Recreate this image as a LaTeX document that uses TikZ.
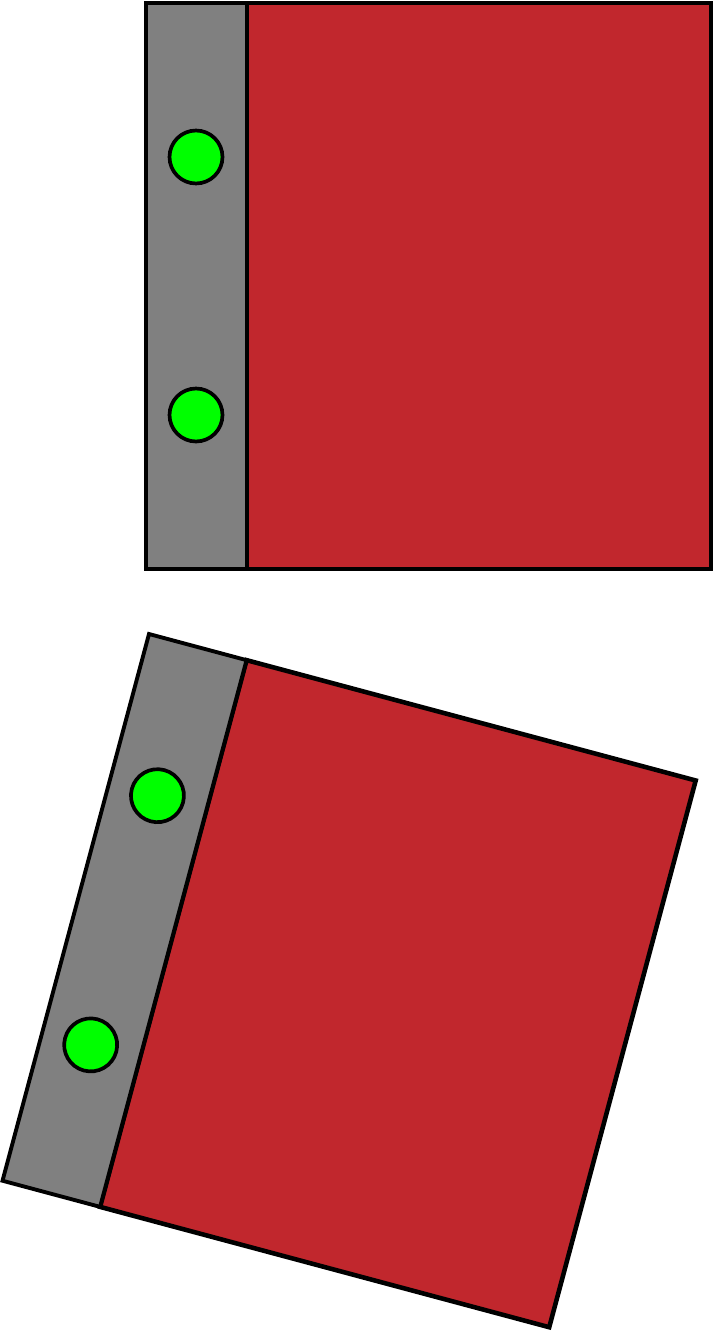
\documentclass[tikz,border=0pt]{standalone}
\definecolor{panelred}{HTML}{C1272D}
\definecolor{hingegray}{HTML}{808080}
\definecolor{pingreen}{HTML}{00FF00}
\begin{document}
\begin{tikzpicture}[x=0.02cm, y=-0.02cm,
  panel/.style={draw, line width=2.6pt, fill=panelred},
  strip/.style={draw, line width=2.2pt, fill=hingegray},
  pin/.style={draw, line width=2.1pt, fill=pingreen}
]
\useasboundingbox (0,0) rectangle (715,1331);
% upright door
\begin{scope}[shift={(146,3)}]
\draw[panel] (101,0) rectangle (565,566);
\draw[strip] (0,0) rectangle (101,566);
\draw[pin] (50,154) circle[radius=0.53cm];
\draw[pin] (50,412) circle[radius=0.53cm];
\end{scope}
% turned door
\begin{scope}[shift={(149,634)}, rotate=-15]
\draw[panel] (101,0) rectangle (566,566);
\draw[strip] (0,0) rectangle (101,566);
\draw[pin] (50,154) circle[radius=0.53cm];
\draw[pin] (50,412) circle[radius=0.53cm];
\end{scope}
\end{tikzpicture}
\end{document}
